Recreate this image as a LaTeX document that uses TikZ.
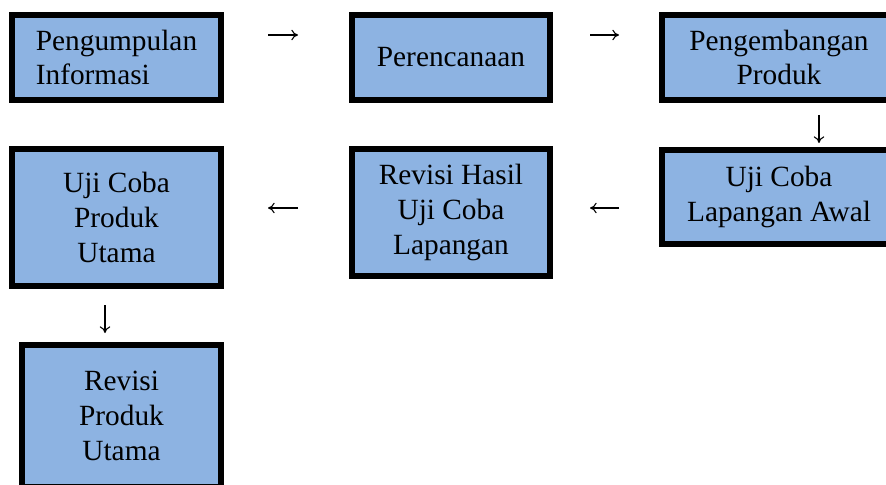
\documentclass[tikz,border=0pt]{standalone}
\usepackage{fontspec}
\setmainfont{Liberation Serif}
\usetikzlibrary{arrows.meta}
\definecolor{stageblue}{RGB}{141,179,226}

\begin{document}
\begin{tikzpicture}[x=0.75pt, y=-0.75pt,
  stagebox/.style={draw=black, fill=stageblue, line width=4.5pt, align=center,
    inner sep=0pt, font=\fontsize{22}{26}\selectfont},
  flow/.style={-{To[length=5pt,width=8pt]}, line width=0.8pt}]

\useasboundingbox (0,0) rectangle (886,485);
\clip (0,0) rectangle (886,485);

\pgfmathsetmacro\x{116.5}

% first row
\node[stagebox, minimum width=156.75pt, minimum height=63.75pt, align=left] (info) at (\x,57.5) {Pengumpulan\\Informasi};
\coordinate (a1s) at (268,35);
\coordinate (a1e) at (298,35);
\draw[flow] (a1s) -- (a1e);

\pgfmathsetmacro\x{451}

\node[stagebox, minimum width=148.5pt, minimum height=63.75pt] (plan) at (\x,57.5) {Perencanaan};
\coordinate (a2s) at (590,35);
\coordinate (a2e) at (619,35);
\draw[flow] (a2s) -- (a2e);

\pgfmathsetmacro\x{779}

\node[stagebox, minimum width=175.5pt, minimum height=63.75pt] (dev) at (\x,57.5) {Pengembangan\\Produk};
\coordinate (a3s) at (819,115);
\coordinate (a3e) at (819,143);
\draw[flow] (a3s) -- (a3e);

% second row, right to left
\node[stagebox, minimum width=175.5pt, minimum height=70.5pt] (field) at (\x,197) {Uji Coba\\Lapangan Awal};
\coordinate (a4s) at (619,208);
\coordinate (a4e) at (590,208);
\draw[flow] (a4s) -- (a4e);

\pgfmathsetmacro\x{451}

\node[stagebox, minimum width=148.5pt, minimum height=95.25pt] (revfield) at (\x,212.5) {Revisi Hasil\\Uji Coba\\Lapangan};
\coordinate (a5s) at (298,208);
\coordinate (a5e) at (268,208);
\draw[flow] (a5s) -- (a5e);

\pgfmathsetmacro\x{116.5}

\node[stagebox, minimum width=156.75pt, minimum height=102.75pt] (main) at (\x,217.5) {Uji Coba\\Produk\\Utama};
\coordinate (a6s) at (105,305);
\coordinate (a6e) at (105,333);
\draw[flow] (a6s) -- (a6e);

% last stage
\node[stagebox, minimum width=149.25pt, minimum height=106.5pt] (revmain) at (\x+5,416) {Revisi\\Produk\\Utama};

\end{tikzpicture}
\end{document}
